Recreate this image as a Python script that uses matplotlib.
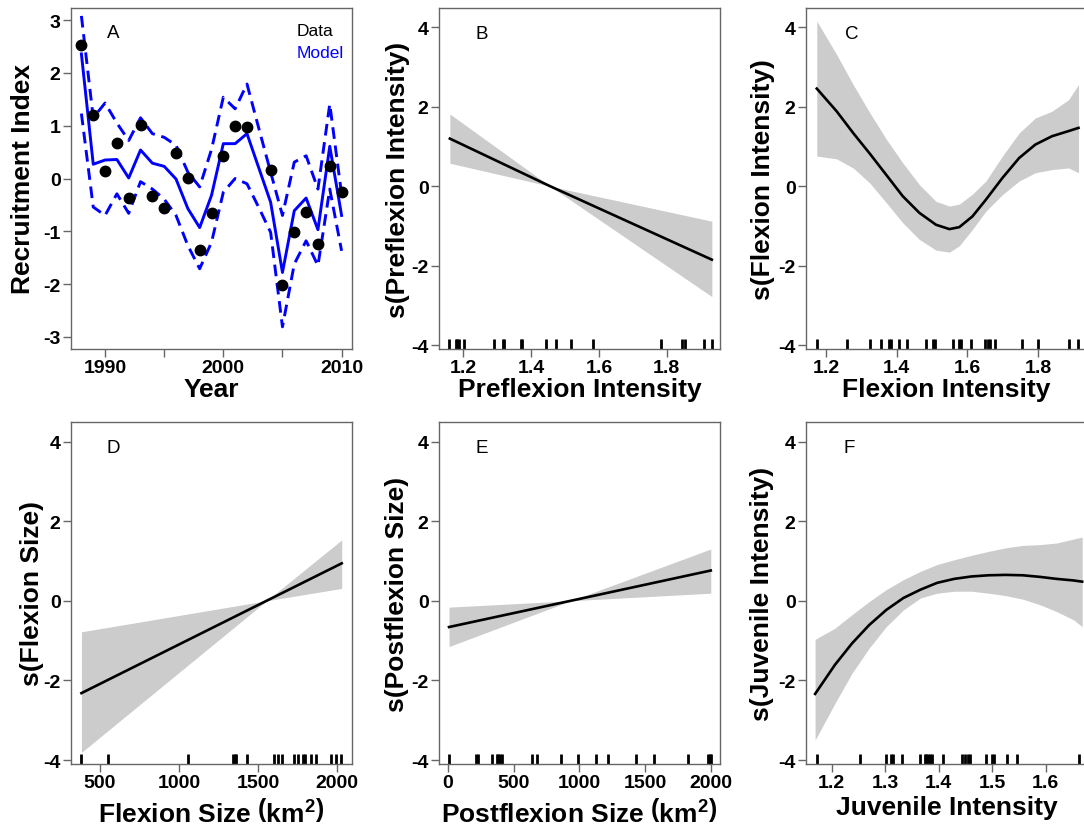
"""
Recruitment index time series (panel A) and GAM smooth terms (panels B-F)
with confidence bands and rug of observed covariate values.
"""
import matplotlib
matplotlib.use("Agg")
import matplotlib.pyplot as plt
from matplotlib.transforms import blended_transform_factory

plt.rcParams["font.family"] = ["Liberation Sans", "DejaVu Sans"]
plt.rcParams["font.weight"] = "bold"
plt.rcParams["axes.unicode_minus"] = False
plt.rcParams["mathtext.fontset"] = "custom"
plt.rcParams["mathtext.rm"] = "Liberation Sans:bold"
plt.rcParams["mathtext.it"] = "Liberation Sans:bold"
plt.rcParams["mathtext.bf"] = "Liberation Sans:bold"

# ---- Panel A: recruitment index ----
years = list(range(1988, 2011))
data_years = [1988, 1989, 1990, 1991, 1992, 1993, 1994, 1995, 1996, 1997, 1998,
              1999, 2000, 2001, 2002, 2004, 2005, 2006, 2007, 2008, 2009, 2010]
data_vals = [2.53, 1.20, 0.15, 0.68, -0.36, 1.01, -0.33, -0.56, 0.49, 0.01, -1.36,
             -0.66, 0.43, 0.99, 0.97, 0.16, -2.02, -1.01, -0.63, -1.24, 0.23, -0.26]
model = [2.36, 0.27, 0.35, 0.36, 0.01, 0.54, 0.29, 0.23, -0.01, -0.57, -0.93, -0.32,
         0.66, 0.66, 0.85, 0.20, -0.45, -1.78, -0.61, -0.37, -0.97, 0.61, -0.70]
model_up = [3.08, 1.15, 1.43, 1.05, 0.72, 1.15, 0.85, 0.78, 0.63, 0.12, -0.16, 0.55,
            1.54, 1.32, 1.79, 0.95, 0.12, -0.70, 0.31, 0.43, -0.20, 1.41, -0.30]
model_lo = [1.23, -0.54, -0.70, -0.29, -0.66, -0.06, -0.20, -0.39, -0.70, -1.27, -1.71,
            -1.21, -0.26, 0.00, -0.10, -0.55, -1.02, -2.81, -1.62, -1.18, -1.65, -0.20, -1.37]

# ---- Panel B: preflexion intensity ----
b_x = [1.16, 1.456, 1.933]
b_fit = [1.20, 0.0, -1.85]
b_up = [1.82, 0.0, -0.88]
b_lo = [0.58, 0.0, -2.78]
b_rug = [1.158, 1.178, 1.182, 1.187, 1.202, 1.291, 1.317, 1.321, 1.369, 1.374,
         1.443, 1.473, 1.517, 1.583, 1.782, 1.844, 1.854, 1.910, 1.933]

# ---- Panel C: flexion intensity ----
c_x = [1.174, 1.230, 1.277, 1.324, 1.371, 1.417, 1.464, 1.511, 1.549, 1.577,
       1.614, 1.652, 1.699, 1.746, 1.792, 1.839, 1.886, 1.914]
c_fit = [2.46, 1.89, 1.34, 0.82, 0.28, -0.25, -0.67, -0.97, -1.08, -1.03,
         -0.76, -0.34, 0.21, 0.71, 1.05, 1.26, 1.39, 1.47]
c_up = [4.16, 3.32, 2.56, 1.85, 1.18, 0.59, 0.04, -0.38, -0.50, -0.45,
        -0.20, 0.13, 0.76, 1.34, 1.72, 1.89, 2.18, 2.56]
c_lo = [0.76, 0.69, 0.46, 0.08, -0.42, -0.92, -1.34, -1.61, -1.66, -1.50,
        -1.09, -0.63, -0.21, 0.13, 0.34, 0.42, 0.46, 0.34]
c_rug = [1.174, 1.260, 1.324, 1.355, 1.379, 1.383, 1.407, 1.430, 1.482, 1.503,
         1.508, 1.558, 1.577, 1.583, 1.609, 1.649, 1.657, 1.663, 1.677, 1.753,
         1.800, 1.887, 1.913]

# ---- Panel D: flexion size ----
d_x = [384, 1555, 2030]
d_fit = [-2.32, 0.0, 0.94]
d_up = [-0.78, 0.0, 1.53]
d_lo = [-3.81, 0.0, 0.31]
d_rug = [384, 555, 1059, 1342, 1352, 1363, 1432, 1604, 1625, 1650, 1730, 1755,
         1782, 1797, 1835, 1866, 1961, 1992, 2027]

# ---- Panel E: postflexion size ----
e_x = [10, 935, 1998]
e_fit = [-0.66, 0.0, 0.76]
e_up = [-0.16, 0.0, 1.30]
e_lo = [-1.15, 0.0, 0.19]
e_rug = [10, 213, 228, 339, 372, 385, 398, 410, 643, 676, 861, 987, 1124, 1215,
         1428, 1570, 1823, 1980, 1990, 1998]

# ---- Panel F: juvenile intensity ----
f_x = [1.169, 1.206, 1.238, 1.270, 1.302, 1.334, 1.366, 1.397, 1.429, 1.461,
       1.493, 1.525, 1.557, 1.589, 1.620, 1.652, 1.668]
f_fit = [-2.34, -1.61, -1.07, -0.61, -0.23, 0.07, 0.28, 0.45, 0.55, 0.61,
         0.64, 0.65, 0.64, 0.60, 0.55, 0.51, 0.48]
f_up = [-0.97, -0.69, -0.35, -0.02, 0.28, 0.53, 0.74, 0.91, 1.03, 1.14,
        1.24, 1.33, 1.39, 1.41, 1.45, 1.55, 1.60]
f_lo = [-3.50, -2.58, -1.82, -1.19, -0.65, -0.23, 0.07, 0.19, 0.24, 0.24,
        0.19, 0.13, 0.04, -0.10, -0.27, -0.48, -0.65]
f_rug = [1.172, 1.252, 1.301, 1.310, 1.314, 1.331, 1.365, 1.374, 1.377, 1.380,
         1.384, 1.387, 1.408, 1.443, 1.449, 1.455, 1.459, 1.488, 1.500, 1.503,
         1.527, 1.547, 1.662]

W, H = 1084, 829
SPINE = "#666666"
BAND = "#cccccc"
TICK_FS = 14
LABEL_FS = 19


def make_axes(fig, left, top, right, bottom):
    return fig.add_axes([left / W, 1 - bottom / H, (right - left) / W, (bottom - top) / H])


def style(ax):
    for s in ax.spines.values():
        s.set_color(SPINE)
        s.set_linewidth(1.0)
    ax.tick_params(direction="out", length=5.5, width=1.0, color=SPINE,
                   labelsize=TICK_FS, pad=2)
    for lab in ax.get_xticklabels() + ax.get_yticklabels():
        lab.set_fontweight("bold")


def smooth_panel(ax, x, fit, up, lo, rug, letter, xlabel, ylabel, xlim,
                 xticks, ylab_x, xlab_y, letter_x):
    ax.fill_between(x, lo, up, color=BAND, linewidth=0)
    ax.plot(x, fit, color="black", lw=1.9)
    tr = blended_transform_factory(ax.transData, ax.transAxes)
    ax.vlines(rug, 0, 0.03, transform=tr, color="black", lw=2.0)
    ax.set_xlim(*xlim)
    ax.set_ylim(-4.1, 4.49)
    ax.set_xticks(xticks)
    ax.set_xticklabels([str(t) for t in xticks])
    ax.set_yticks([-4, -2, 0, 2, 4])
    ax.set_xlabel(xlabel, fontsize=LABEL_FS, fontweight="bold", va="center")
    ax.set_ylabel(ylabel, fontsize=LABEL_FS, fontweight="bold", va="center")
    ax.yaxis.set_label_coords(ylab_x, 0.5)
    ax.xaxis.set_label_coords(0.5, xlab_y)
    ax.text(letter_x, 0.925, letter, transform=ax.transAxes, fontsize=13.5,
            fontweight="normal", ha="center", va="center")
    style(ax)


fig = plt.figure(figsize=(W / 100, H / 100), dpi=100)

# Panel A
axA = make_axes(fig, 71, 9, 352, 350)
axA.plot(years, model_up, color="#0000ff", lw=2.1, dashes=(4, 2.3))
axA.plot(years, model_lo, color="#0000ff", lw=2.1, dashes=(4, 2.3))
axA.plot(years, model, color="#0000ff", lw=2.1)
axA.plot(data_years, data_vals, "o", color="black", ms=7.5)
axA.set_xlim(1987.12, 2010.88)
axA.set_ylim(-3.23, 3.23)
axA.set_xticks([1990, 1995, 2000, 2005, 2010])
axA.set_xticklabels(["1990", "", "2000", "", "2010"])
axA.set_yticks([-3, -2, -1, 0, 1, 2, 3])
axA.set_xlabel("Year", fontsize=LABEL_FS, fontweight="bold", va="center")
axA.set_ylabel("Recruitment Index", fontsize=LABEL_FS, fontweight="bold", va="center")
axA.yaxis.set_label_coords(-0.171, 0.5)
axA.xaxis.set_label_coords(0.5, -0.118)
axA.text(0.149, 0.927, "A", transform=axA.transAxes, fontsize=13.5,
         fontweight="normal", ha="center", va="center")
axA.text(0.803, 0.933, "Data", transform=axA.transAxes, fontsize=12.5,
         fontweight="normal", ha="left", va="center", color="black")
axA.text(0.803, 0.870, "Model", transform=axA.transAxes, fontsize=12.5,
         fontweight="normal", ha="left", va="center", color="#0000ff")
style(axA)

axB = make_axes(fig, 439, 9, 720, 350)
smooth_panel(axB, b_x, b_fit, b_up, b_lo, b_rug, "B", "Preflexion Intensity",
             "s(Preflexion Intensity)", (1.128, 1.957), [1.2, 1.4, 1.6, 1.8],
             -0.146, -0.117, 0.152)

axC = make_axes(fig, 806, 9, 1087, 350)
smooth_panel(axC, c_x, c_fit, c_up, c_lo, c_rug, "C", "Flexion Intensity",
             "s(Flexion Intensity)", (1.1435, 1.938), [1.2, 1.4, 1.6, 1.8],
             -0.152, -0.117, 0.163)

axD = make_axes(fig, 71, 423, 352, 765)
smooth_panel(axD, d_x, d_fit, d_up, d_lo, d_rug, "D",
             r"Flexion Size $\left(\mathrm{km}^{2}\right)$",
             "s(Flexion Size)", (318, 2095), [500, 1000, 1500, 2000],
             -0.14, -0.14, 0.149)

axE = make_axes(fig, 439, 423, 720, 765)
smooth_panel(axE, e_x, e_fit, e_up, e_lo, e_rug, "E",
             r"Postflexion Size $\left(\mathrm{km}^{2}\right)$",
             "s(Postflexion Size)", (-66, 2068), [0, 500, 1000, 1500, 2000],
             -0.150, -0.14, 0.152)

axF = make_axes(fig, 806, 423, 1087, 765)
smooth_panel(axF, f_x, f_fit, f_up, f_lo, f_rug, "F", "Juvenile Intensity",
             "s(Juvenile Intensity)", (1.152, 1.677), [1.2, 1.3, 1.4, 1.5, 1.6],
             -0.158, -0.126, 0.153)

fig.savefig("out.png", dpi=100)
